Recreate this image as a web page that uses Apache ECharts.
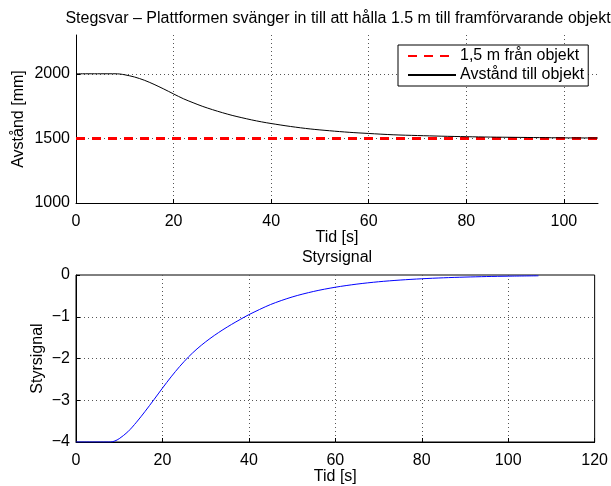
<!DOCTYPE html>
<html>
<head>
<meta charset="utf-8">
<title>Stegsvar</title>
<script src="https://cdn.jsdelivr.net/npm/echarts@6/dist/echarts.min.js"></script>
<style>
    html,body{margin:0;padding:0;background:#fff;}
    #main{width:611px;height:486px;}
</style>
</head>
<body>
<div id="main"></div>
<script>
// tid [s] och avstånd [mm] (övre figuren)
let tidAvst = [0, 8, 9, 10, 12, 14, 16, 18, 20, 22, 24, 26, 28, 30, 32, 34, 36, 38, 40, 44, 48, 52, 56, 60, 65, 70, 75, 80, 85, 90, 95, 100, 107];
let avstand = [2000, 2000, 1998, 1992, 1975, 1950, 1918, 1882, 1844, 1807, 1776, 1747, 1722, 1699, 1678, 1660, 1643, 1628, 1615, 1592, 1573, 1559, 1547, 1538, 1528, 1522, 1517, 1513, 1510, 1508, 1506, 1504, 1503];
// referenslinje 1,5 m
let refTid = [0, 107];
let refVarde = [1500, 1500];
// styrsignal (nedre figuren)
let tidStyr = [0, 8, 9, 10, 12, 14, 16, 18, 20, 22, 24, 26, 28, 30, 32, 34, 36, 38, 40, 45, 50, 55, 60, 65, 70, 75, 80, 85, 90, 95, 100, 107];
let styrsignal = [-4, -4, -3.975, -3.92, -3.755, -3.525, -3.265, -2.99, -2.71, -2.44, -2.19, -1.965, -1.77, -1.60, -1.448, -1.31, -1.183, -1.064, -0.95, -0.708, -0.527, -0.393, -0.293, -0.218, -0.162, -0.121, -0.090, -0.067, -0.050, -0.037, -0.028, -0.019];

let xTicksTop = [0, 107, 20];
let yTicksTop = [1000, 2300, 500];
let xTicksBot = [0, 120, 20];
let yTicksBot = [-4, 0, 1];

const FONT = 'Liberation Sans';
const FS = 16;

function pairs(xs, ys){
    return xs.map((x, i)=>[x, ys[i]]);
}

function minus(v){
    return String(v).replace('-', '\u2212');
}

/*
*   gemensam axel-stil
* */
function axis(ticks, gridIndex, showMax, margin, extra){
    let a = {
        type: 'value',
        gridIndex: gridIndex,
        min: ticks[0],
        max: ticks[1],
        interval: ticks[2],
        axisLine: {show: true, onZero: false, lineStyle: {color: '#000', width: 1}},
        axisTick: {show: true, inside: true, length: 4, lineStyle: {color: '#000'}},
        axisLabel: {color: '#000', fontFamily: FONT, fontSize: FS, margin: margin, showMaxLabel: showMax, formatter: minus},
        splitLine: {show: true, showMinLine: false, showMaxLine: false, lineStyle: {color: '#555', type: [1, 3], width: 1}},
        nameTextStyle: {color: '#000', fontFamily: FONT, fontSize: FS},
        nameLocation: 'middle',
        nameMoveOverlap: false
    };
    return Object.assign(a, extra);
}

let chart = echarts.init(document.getElementById('main'));

let titleStyle = {fontFamily: FONT, fontSize: FS, fontWeight: 'normal', color: '#000'};

let option = {
    animation: false,
    backgroundColor: '#fff',
    textStyle: {fontFamily: FONT},
    title: [
        {text: 'Stegsvar \u2013 Plattformen svänger in till att hålla 1.5 m till framförvarande objekt',
            left: 333, top: 6, textAlign: 'center', textStyle: titleStyle},
        {text: 'Styrsignal', left: 332, top: 245, textAlign: 'center', textStyle: titleStyle}
    ],
    legend: {
        left: 398, top: 45,
        orient: 'vertical',
        align: 'left',
        backgroundColor: '#fff',
        borderColor: '#000',
        borderWidth: 1,
        borderRadius: 0,
        padding: [3, 4, 3, 9],
        itemWidth: 48,
        itemHeight: 14,
        itemGap: 3,
        itemStyle: {opacity: 0},
        textStyle: {fontFamily: FONT, fontSize: FS, color: '#000', padding: [0, 0, 0, -1]},
        data: ['1,5 m från objekt', 'Avstånd till objekt']
    },
    grid: [
        {left: 76, top: 35, width: 522, height: 168},
        {left: 76, top: 275, width: 522, height: 168, show: true, borderColor: '#000', borderWidth: 1}
    ],
    xAxis: [
        axis(xTicksTop, 0, false, 11, {name: 'Tid [s]', nameGap: 27}),
        axis(xTicksBot, 1, true, 11, {name: 'Tid [s]', nameGap: 27})
    ],
    yAxis: [
        axis(yTicksTop, 0, false, 6, {name: 'Avstånd [mm]', nameGap: 49}),
        axis(yTicksBot, 1, true, 6, {name: 'Styrsignal', nameGap: 30})
    ],
    series: [
        {
            name: '1,5 m från objekt',
            type: 'line',
            xAxisIndex: 0, yAxisIndex: 0,
            symbol: 'none',
            data: pairs(refTid, refVarde),
            lineStyle: {color: '#ff0000', width: 3, type: [9, 7]},
            itemStyle: {color: '#ff0000'},
            z: 3
        },
        {
            name: 'Avstånd till objekt',
            type: 'line',
            xAxisIndex: 0, yAxisIndex: 0,
            symbol: 'none',
            smooth: 0.3,
            data: pairs(tidAvst, avstand),
            lineStyle: {color: '#000', width: 1},
            itemStyle: {color: '#000'},
            z: 4
        },
        {
            name: 'Styrsignal',
            type: 'line',
            xAxisIndex: 1, yAxisIndex: 1,
            symbol: 'none',
            smooth: 0.3,
            data: pairs(tidStyr, styrsignal),
            lineStyle: {color: '#0000ff', width: 1},
            itemStyle: {color: '#0000ff'}
        }
    ]
};

chart.setOption(option);
</script>
</body>
</html>
